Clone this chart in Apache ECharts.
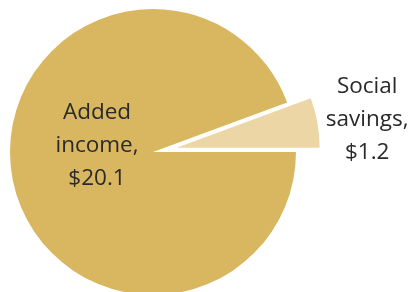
<!DOCTYPE html>
<html>
<head>
<meta charset="utf-8">
<script src="https://cdn.jsdelivr.net/npm/echarts@6/dist/echarts.min.js"></script>
<style>
  html, body { margin: 0; padding: 0; background: #fff; }
  #chart { width: 410px; height: 292px; }
</style>
</head>
<body>
<div id="chart"></div>
<script>
// slice names and values ($)
const names = ['Social\nsavings,', 'Added\nincome,'];
const values = [1.2, 20.1];
const colors = ['#ECD6A6', '#D9B760'];

// where each label sits (px)
const labelSpots = [[372, 120], [97, 146]];

const total = values[0] + values[1];
const chart = echarts.init(document.getElementById('chart'));

chart.setOption({
    animation: false,
    series: [{
        type: 'pie',
        center: [153, 152],
        radius: [0, 143],
        startAngle: values[0] / total * 360,
        clockwise: true,
        selectedMode: 'single',
        selectedOffset: 24,
        avoidLabelOverlap: false,
        label: {
            show: true,
            position: 'inside',
            color: '#2a2a2a',
            fontFamily: 'Open Sans',
            fontSize: 22.5,
            lineHeight: 33,
            formatter: p => p.name + '\n$' + p.value.toFixed(1)
        },
        labelLine: { show: false },
        labelLayout: p => ({
            x: labelSpots[p.dataIndex][0],
            y: labelSpots[p.dataIndex][1],
            align: 'center',
            verticalAlign: 'middle'
        }),
        emphasis: { disabled: true },
        data: values.map((v, i) => ({
            name: names[i],
            value: v,
            selected: i === 0,
            label: { position: i === 0 ? 'outside' : 'inside' },
            itemStyle: { color: colors[i] }
        }))
    }]
});
</script>
</body>
</html>
